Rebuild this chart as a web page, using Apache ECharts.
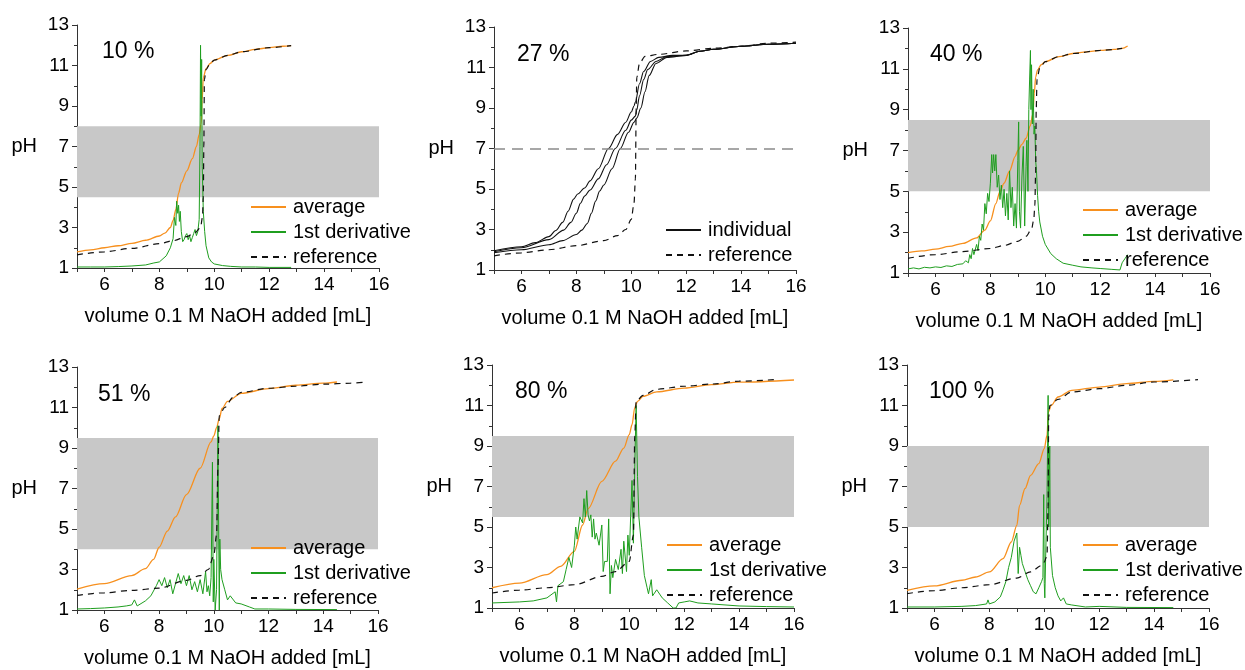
<!DOCTYPE html>
<html>
<head>
<meta charset="utf-8">
<script src="https://cdn.jsdelivr.net/npm/echarts@6/dist/echarts.min.js"></script>
<style>
  html, body { margin: 0; padding: 0; background: #fff; }
  #chart { width: 1245px; height: 670px; }
</style>
</head>
<body>
<div id="chart"></div>
<script>
// panel labels and grey pH bands (null = no band)
const panelLabels = ['10 %', '27 %', '40 %', '51 %', '80 %', '100 %'];
const bandLow = [4.5, null, 5.0, 4.0, 5.5, 5.0];
const bandHigh = [8.0, null, 8.5, 9.5, 9.5, 9.0];
const neutralLine = 7;
const xTicks = [6, 8, 10, 12, 14, 16];

// 10 %
const avg10 = [[5,1.8],[5.5,1.9],[6,2.0],[6.5,2.1],[7,2.22],[7.5,2.37],[8,2.58],[8.2,2.72],[8.4,3.0],[8.5,3.35],[8.6,3.9],[8.7,4.7],[8.8,5.2],[9.0,5.8],[9.2,6.4],[9.35,7.0],[9.45,7.6],[9.52,8.1],[9.56,9.3],[9.6,10.4],[9.7,10.85],[9.85,11.1],[10,11.27],[10.5,11.5],[11,11.68],[11.5,11.8],[12,11.88],[12.5,11.95],[12.8,11.98]];
const der10 = [[5,1.05],[5.5,1.05],[6,1.05],[6.5,1.07],[7,1.1],[7.5,1.15],[7.8,1.25],[8.0,1.3],[8.25,1.6],[8.4,2.0],[8.5,2.45],[8.55,3.5],[8.6,3.1],[8.63,4.3],[8.67,3.7],[8.7,4.1],[8.73,3.3],[8.76,3.8],[8.8,2.8],[8.85,2.3],[8.9,2.4],[8.95,2.6],[9.0,2.7],[9.05,2.4],[9.1,2.6],[9.15,2.3],[9.2,2.5],[9.25,2.7],[9.3,2.9],[9.35,2.6],[9.4,2.8],[9.45,3.4],[9.48,7.0],[9.5,12.0],[9.52,8.5],[9.54,11.3],[9.56,6.0],[9.58,5.0],[9.6,3.8],[9.65,2.8],[9.7,2.1],[9.8,1.5],[9.9,1.3],[10,1.2],[10.3,1.12],[10.6,1.08],[11,1.05],[11.5,1.05],[12,1.03],[12.8,1.03]];
const ref10 = [[5,1.65],[6,1.8],[7,1.97],[8,2.2],[8.5,2.35],[9,2.55],[9.3,2.75],[9.5,3.0],[9.57,3.5],[9.6,4.5],[9.62,7],[9.64,10.3],[9.7,10.8],[9.85,11.1],[10,11.27],[10.5,11.5],[11,11.68],[12,11.88],[12.8,11.98]];

// 27 %
const ind27a = [[5,1.95],[6,2.15],[6.5,2.35],[7,2.65],[7.25,2.95],[7.5,3.35],[7.7,3.9],[7.9,4.5],[8.05,4.75],[8.3,5.05],[8.5,5.4],[8.8,6.0],[9.17,7.0],[9.5,7.7],[9.8,8.3],[10.0,8.8],[10.1,9.1],[10.15,9.3],[10.3,10.2],[10.45,10.8],[10.7,11.3],[11.0,11.5],[11.5,11.6],[12,11.6],[12.5,11.8],[13,11.9],[14,12.05],[15,12.15],[16,12.2]];
const ind27b = [[5,1.9],[6,2.1],[7,2.5],[7.54,2.97],[7.8,3.35],[8.0,3.8],[8.15,4.3],[8.3,4.65],[8.5,4.95],[8.8,5.5],[9.1,6.2],[9.42,7.0],[9.8,7.9],[10.0,8.4],[10.15,8.6],[10.2,8.9],[10.3,9.6],[10.45,10.4],[10.6,10.9],[10.9,11.3],[11.3,11.55],[12,11.6],[12.5,11.8],[13,11.9],[14,12.05],[15,12.15],[16,12.2]];
const ind27c = [[5,1.85],[6,2.0],[7,2.25],[7.5,2.45],[8.0,2.75],[8.2,2.97],[8.4,3.3],[8.55,3.8],[8.7,4.4],[8.85,4.9],[9.0,5.2],[9.3,6.0],[9.6,7.0],[9.9,7.8],[10.1,8.3],[10.2,8.5],[10.35,9.0],[10.5,9.8],[10.65,10.6],[10.9,11.2],[11.3,11.5],[12,11.6],[12.5,11.8],[13,11.9],[14,12.05],[15,12.15],[16,12.2]];
const ref27 = [[5,1.7],[6,1.85],[7,2.0],[8,2.2],[9,2.45],[9.5,2.7],[9.8,3.0],[10.0,3.5],[10.1,4.3],[10.15,5.5],[10.18,9],[10.2,10.5],[10.3,11.2],[10.5,11.55],[11,11.65],[12,11.82],[13,11.95],[14,12.05],[15,12.2],[16,12.25]];

// 40 %
const avg40 = [[5,2.0],[5.5,2.08],[6,2.17],[6.5,2.3],[7,2.45],[7.5,2.72],[7.8,3.1],[8.0,3.55],[8.2,4.4],[8.35,5.0],[8.5,5.4],[8.7,6.0],[8.9,6.7],[9.0,7.0],[9.15,7.3],[9.3,7.6],[9.45,8.2],[9.55,8.8],[9.6,9.8],[9.65,10.6],[9.72,10.95],[9.85,11.2],[10,11.35],[10.5,11.6],[11,11.75],[11.5,11.83],[12,11.9],[12.5,11.95],[12.8,12.0],[13,12.12]];
const der40 = [[5,1.2],[5.2,1.25],[5.4,1.2],[5.6,1.28],[5.8,1.25],[6,1.3],[6.2,1.27],[6.4,1.35],[6.6,1.32],[6.8,1.42],[7.0,1.45],[7.1,1.6],[7.2,1.5],[7.25,1.9],[7.3,1.7],[7.35,2.2],[7.4,1.9],[7.5,2.4],[7.55,2.1],[7.6,2.8],[7.65,2.6],[7.7,3.4],[7.75,3.1],[7.8,4.4],[7.85,3.9],[7.9,4.9],[7.95,4.5],[8.0,5.4],[8.05,6.8],[8.08,5.9],[8.12,6.8],[8.16,6.0],[8.2,6.8],[8.25,5.2],[8.3,5.8],[8.35,4.6],[8.4,5.3],[8.45,4.2],[8.5,5.1],[8.55,3.8],[8.6,4.9],[8.65,3.6],[8.7,6.0],[8.75,4.2],[8.8,5.2],[8.85,3.3],[8.9,4.4],[8.95,3.2],[9.0,6.5],[9.03,8.4],[9.06,4.0],[9.1,3.2],[9.15,5.7],[9.2,7.2],[9.25,3.3],[9.3,6.2],[9.33,7.5],[9.37,5.0],[9.4,9.0],[9.43,10.5],[9.46,11.9],[9.48,9.0],[9.5,11.2],[9.53,8.3],[9.56,10.0],[9.59,7.8],[9.62,8.2],[9.65,6.5],[9.68,6.0],[9.72,4.8],[9.76,4.0],[9.8,3.5],[9.9,2.8],[10.0,2.4],[10.2,1.95],[10.4,1.7],[10.65,1.48],[11,1.38],[11.3,1.3],[11.7,1.25],[12,1.22],[12.4,1.18],[12.72,1.15],[12.8,1.5],[12.9,1.7],[13,1.9]];
const ref40 = [[5,1.72],[6,1.9],[7,2.05],[8,2.2],[8.5,2.35],[9,2.55],[9.3,2.8],[9.5,3.15],[9.58,3.6],[9.62,4.3],[9.65,6.0],[9.67,9.0],[9.7,10.5],[9.8,11.05],[10,11.35],[10.5,11.6],[11,11.75],[12,11.9],[12.8,12.0]];

// 51 %
const avg51 = [[5,2.03],[6,2.3],[7,2.7],[7.5,3.04],[7.8,3.5],[8,4.1],[8.3,4.9],[8.6,5.6],[9,6.7],[9.5,8.0],[9.9,9.3],[10.0,9.6],[10.1,10.0],[10.2,10.45],[10.3,10.95],[10.5,11.3],[11,11.7],[12,11.93],[13,12.1],[14,12.2],[14.5,12.26]];
const der51 = [[5,1.05],[5.5,1.07],[6,1.1],[6.5,1.15],[6.8,1.2],[7,1.25],[7.1,1.5],[7.2,1.2],[7.5,1.45],[7.7,1.7],[7.9,2.2],[8.0,2.5],[8.1,2.2],[8.2,2.6],[8.3,2.1],[8.4,2.5],[8.5,1.8],[8.6,2.3],[8.7,2.8],[8.8,2.3],[8.9,2.7],[9.0,2.2],[9.1,2.7],[9.2,2.0],[9.3,2.4],[9.4,1.9],[9.5,2.5],[9.6,1.8],[9.7,2.9],[9.75,1.9],[9.8,2.2],[9.85,1.7],[9.9,2.6],[9.95,8.3],[9.98,1.4],[10.0,3.5],[10.05,1.0],[10.1,2.0],[10.15,10.1],[10.18,4.5],[10.2,1.0],[10.22,4.5],[10.25,3.0],[10.3,2.5],[10.4,2.0],[10.5,1.5],[10.6,1.7],[10.8,1.35],[11,1.3],[11.3,1.15],[11.5,1.05],[12,1.05],[13,1.03],[14.5,1.02]];
const ref51 = [[5,1.72],[6,1.85],[7,1.97],[8,2.08],[9,2.46],[9.5,2.7],[9.8,3.0],[10.0,3.7],[10.1,4.7],[10.15,8.0],[10.2,10.6],[10.4,11.0],[10.7,11.5],[11,11.75],[12,11.95],[13,12.05],[14,12.15],[15,12.2],[15.6,12.26]];

// 80 %
const avg80 = [[5,2.0],[6,2.23],[7,2.65],[7.5,3.06],[8,3.8],[8.3,5.1],[8.5,5.9],[9,7.25],[9.5,8.25],[9.8,8.9],[10,9.56],[10.1,10.05],[10.2,10.9],[10.3,11.2],[10.5,11.45],[11,11.67],[12,11.86],[13,12.03],[14,12.15],[16,12.26]];
const der80 = [[5,1.25],[6,1.3],[6.5,1.35],[7,1.5],[7.3,1.8],[7.35,1.3],[7.4,2.1],[7.6,2.3],[7.7,2.9],[7.8,3.5],[7.9,3.0],[8.0,4.1],[8.05,5.0],[8.1,4.4],[8.2,5.5],[8.3,5.2],[8.35,6.4],[8.4,5.5],[8.45,6.8],[8.5,5.6],[8.55,5.3],[8.6,5.6],[8.65,4.5],[8.7,5.4],[8.75,4.4],[8.8,4.7],[8.9,4.1],[9.0,5.1],[9.05,2.8],[9.1,3.3],[9.2,3.3],[9.25,5.4],[9.3,1.7],[9.35,3.1],[9.4,2.5],[9.5,3.4],[9.6,2.9],[9.7,3.9],[9.75,2.7],[9.8,4.3],[9.9,2.8],[9.95,4.6],[10.0,3.6],[10.05,5.5],[10.1,7.3],[10.15,4.2],[10.2,8.0],[10.25,11.0],[10.3,7.5],[10.35,5.5],[10.45,4.0],[10.55,2.6],[10.65,2.0],[10.7,1.7],[10.8,2.4],[10.85,1.6],[11.0,1.9],[11.2,1.5],[11.4,1.25],[11.6,1.0],[11.7,1.0],[11.8,1.25],[12.0,1.3],[12.2,1.35],[12.5,1.25],[13,1.2],[14,1.1],[15,1.07],[16,1.05]];
const ref80 = [[5,1.74],[6,1.88],[7,2.0],[8,2.15],[9,2.56],[9.5,2.8],[10,3.3],[10.15,4.6],[10.2,9.5],[10.25,11.2],[10.5,11.5],[11,11.8],[12,11.95],[13,12.06],[14,12.2],[15.3,12.28]];

// 100 %
const avg100 = [[5,1.87],[6,2.09],[7,2.37],[7.5,2.53],[8,2.78],[8.5,3.44],[8.8,4.26],[9.0,5.08],[9.1,6.07],[9.3,6.9],[9.5,7.55],[9.8,8.13],[10,8.87],[10.1,9.53],[10.15,10.68],[10.25,11.0],[10.5,11.42],[11,11.75],[12,11.91],[13,12.08],[14,12.19],[14.7,12.27]];
const der100 = [[5,1.05],[6,1.05],[7,1.08],[7.5,1.12],[7.9,1.2],[7.95,1.4],[8.0,1.2],[8.2,1.3],[8.4,1.55],[8.5,1.9],[8.6,2.3],[8.7,3.0],[8.8,3.5],[8.9,4.3],[9.0,4.7],[9.05,2.7],[9.1,4.0],[9.15,3.6],[9.2,3.2],[9.3,2.8],[9.4,2.4],[9.5,2.1],[9.6,1.8],[9.7,1.7],[9.8,2.0],[9.9,2.3],[9.95,2.5],[9.98,6.6],[10.0,2.2],[10.02,1.5],[10.05,3.5],[10.1,6.5],[10.12,9.0],[10.14,11.5],[10.16,5.0],[10.2,9.0],[10.22,4.0],[10.3,2.6],[10.4,2.0],[10.5,1.6],[10.6,1.35],[10.7,1.5],[10.8,1.2],[11,1.15],[11.5,1.05],[12,1.08],[13,1.03],[14.7,1.02]];
const ref100 = [[5,1.71],[6,1.86],[7,2.0],[8,2.15],[9,2.48],[9.5,2.78],[9.9,3.1],[10.0,3.27],[10.1,3.6],[10.14,6.0],[10.16,10.4],[10.2,11.0],[10.5,11.3],[11,11.67],[12,11.83],[13,12.0],[14,12.16],[15.6,12.28]];

const chart = echarts.init(document.getElementById('chart'));

const font = "'Liberation Sans', Arial, sans-serif";
const grids = [
  { left: 77, top: 25, width: 302, height: 243 },
  { left: 494, top: 27, width: 302, height: 243 },
  { left: 908, top: 28, width: 302, height: 245 },
  { left: 77, top: 367, width: 301, height: 243 },
  { left: 492, top: 365, width: 302, height: 243 },
  { left: 907, top: 365, width: 302, height: 243 }
];
const labelPos = [[102, 40], [517, 43], [930, 43], [98, 383], [515, 380], [929, 380]];
const legendPos = [[250, 197], [665, 220], [1082, 200], [250, 538], [666, 535], [1082, 535]];

const orange = '#f7901e';
const green = '#1f9e1f';

function xAxis(i) {
  return {
    type: 'value', gridIndex: i, min: 5, max: 16, interval: 1,
    axisLine: { onZero: false, lineStyle: { color: '#333', width: 1 } },
    axisTick: { length: 4, lineStyle: { color: '#333' } },
    axisLabel: {
      color: '#000', fontSize: 19, fontFamily: font, margin: 7,
      formatter: v => (xTicks.indexOf(v) >= 0 ? String(v) : '')
    },
    splitLine: { show: false },
    name: 'volume 0.1 M NaOH added [mL]',
    nameLocation: 'middle', nameGap: 38,
    nameTextStyle: { color: '#000', fontSize: 20, fontFamily: font }
  };
}

function yAxis(i) {
  return {
    type: 'value', gridIndex: i, min: 1, max: 13, interval: 2,
    axisLine: { show: true, onZero: false, lineStyle: { color: '#333', width: 1 } },
    axisTick: { show: true, length: 5, lineStyle: { color: '#333' } },
    minorTick: { show: true, splitNumber: 2, length: 3, lineStyle: { color: '#333' } },
    axisLabel: { color: '#000', fontSize: 19, fontFamily: font, margin: 8 },
    splitLine: { show: false },
    name: 'pH', nameLocation: 'middle', nameRotate: 0, nameGap: 40,
    nameTextStyle: { color: '#000', fontSize: 20, fontFamily: font }
  };
}

function line(name, i, data, color, width, dashed, smooth) {
  return {
    name: name, type: 'line', xAxisIndex: i, yAxisIndex: i,
    data: data, symbol: 'none', showSymbol: false,
    smooth: smooth ? 0.3 : false, smoothMonotone: smooth ? 'x' : undefined,
    lineStyle: { color: color, width: width, type: dashed ? [6, 5] : 'solid' },
    itemStyle: { color: color },
    silent: true
  };
}

function band(i) {
  return {
    name: 'band' + i, type: 'line', xAxisIndex: i, yAxisIndex: i, data: [],
    markArea: {
      silent: true,
      itemStyle: { color: '#c8c8c8' },
      data: [[{ yAxis: bandLow[i] }, { yAxis: bandHigh[i] }]]
    }
  };
}

const averages = [avg10, null, avg40, avg51, avg80, avg100];
const derivs = [der10, null, der40, der51, der80, der100];
const refs = [ref10, ref27, ref40, ref51, ref80, ref100];

const series = [];
for (let i = 0; i < 6; i++) {
  if (bandLow[i] !== null) series.push(band(i));
  if (i === 1) {
    const neutral = line('neutral', 1, [], '#888', 1.5, true, false);
    neutral.markLine = {
      silent: true, symbol: 'none', label: { show: false },
      lineStyle: { color: '#8a8a8a', width: 1.5, type: [11, 7] },
      data: [{ yAxis: neutralLine }]
    };
    series.push(neutral);
    series.push(line('individual', 1, ind27a, '#111', 1.1, false, true));
    series.push(line('individual', 1, ind27b, '#111', 1.1, false, true));
    series.push(line('individual', 1, ind27c, '#111', 1.1, false, true));
  } else {
    series.push(line('average', i, averages[i], orange, 1.3, false, true));
    series.push(line('1st derivative', i, derivs[i], green, 1, false, false));
  }
  series.push(line('reference', i, refs[i], '#111', 1.2, true, true));
}

const legends = legendPos.map((p, i) => ({
  left: p[0], top: p[1], orient: 'vertical', padding: 0,
  itemWidth: 35, itemHeight: 14, itemGap: 5, selectedMode: false,
  itemStyle: { opacity: 0 },
  data: i === 1 ? ['individual', 'reference'] : ['average', '1st derivative', 'reference'],
  textStyle: { color: '#000', fontSize: 20, lineHeight: 20, fontFamily: font, padding: [0, 0, 0, 2] }
}));

const titles = labelPos.map((p, i) => ({
  text: panelLabels[i], left: p[0], top: p[1], padding: 0,
  textStyle: { color: '#000', fontSize: 23, fontWeight: 'normal', fontFamily: font }
}));

chart.setOption({
  animation: false,
  backgroundColor: '#fff',
  title: titles,
  legend: legends,
  grid: grids,
  xAxis: grids.map((g, i) => xAxis(i)),
  yAxis: grids.map((g, i) => yAxis(i)),
  series: series
});
</script>
</body>
</html>
